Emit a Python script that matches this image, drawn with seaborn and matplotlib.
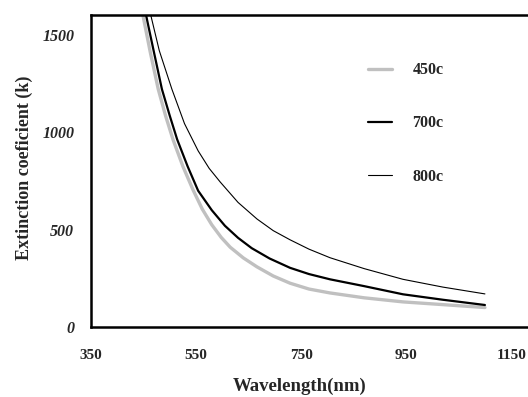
import matplotlib
matplotlib.use("Agg")
import matplotlib.pyplot as plt
import pandas as pd
import seaborn as sns

sns.set_style("white")
plt.rcParams['font.family'] = ['Liberation Serif', 'DejaVu Serif']

# values
wl_450 = [449, 463, 478, 492, 506, 525, 544, 562, 580, 598, 615, 640, 666, 697, 729, 765, 805, 870, 944, 1020, 1100]
k_450 = [1600, 1410, 1222, 1085, 964, 825, 706, 605, 525, 460, 410, 355, 309, 262, 225, 195, 175, 150, 129, 115, 100]

wl_700 = [455, 470, 485, 500, 514, 534, 554, 580, 605, 630, 656, 690, 729, 765, 805, 870, 944, 1020, 1100]
k_700 = [1600, 1410, 1222, 1085, 964, 825, 700, 600, 520, 458, 405, 352, 304, 272, 245, 210, 168, 140, 113]

wl_800 = [464, 480, 504, 528, 554, 575, 596, 630, 666, 697, 729, 765, 805, 870, 944, 1020, 1100]
k_800 = [1600, 1420, 1222, 1045, 905, 815, 745, 640, 555, 495, 448, 400, 356, 300, 245, 205, 170]

series = ["450c", "700c", "800c"]
colors = ["#c0c0c0", "black", "black"]
widths = [2.4, 1.6, 0.8]

x_ticks = [350, 550, 750, 950, 1150]
y_ticks = [0, 500, 1000, 1500]

df = pd.concat([
    pd.DataFrame({"wl": wl_450, "k": k_450, "s": "450c"}),
    pd.DataFrame({"wl": wl_700, "k": k_700, "s": "700c"}),
    pd.DataFrame({"wl": wl_800, "k": k_800, "s": "800c"}),
])

fig = plt.figure(figsize=(5.28, 3.97), dpi=100)
ax = fig.add_axes([91 / 528, 70 / 397, 437 / 528, 312 / 397])

for name, c, lw in zip(series, colors, widths):
    sns.lineplot(data=df[df.s == name], x="wl", y="k", color=c, linewidth=lw,
                 label=name, ax=ax, sort=False)

ax.set_xlim(350, 1182)
ax.set_ylim(0, 1603)
ax.set_xticks(x_ticks)
ax.set_yticks(y_ticks)
ax.set_xticklabels([str(t) for t in x_ticks], fontweight="bold", fontsize=11)
ax.set_yticklabels([str(t) for t in y_ticks], fontweight="bold", fontstyle="italic", fontsize=11.5)
ax.tick_params(axis="both", direction="out", length=3.6, width=1.1, color="black")
ax.tick_params(axis="x", pad=12.5)
ax.tick_params(axis="y", pad=8.5)

for side in ["left", "bottom", "top"]:
    ax.spines[side].set_color("black")
    ax.spines[side].set_linewidth(1.8)
ax.spines["right"].set_visible(False)

ax.set_xlabel("Wavelength(nm)", fontweight="bold", fontsize=13.5)
ax.set_ylabel("Extinction coeficient (k)", fontweight="bold", fontsize=13)
ax.xaxis.set_label_coords(0.478, -0.163)
ax.yaxis.set_label_coords(-0.133, 0.51)

leg = ax.legend(loc="upper left", bbox_to_anchor=(0.6, 0.895), frameon=False,
                handlelength=1.56, handletextpad=1.25, labelspacing=2.33,
                prop={"weight": "bold", "size": 11.5})

fig.savefig("out.png", dpi=100)
